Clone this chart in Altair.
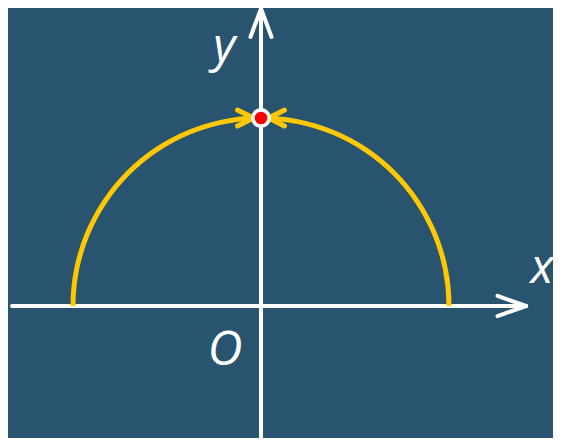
import altair as alt
import pandas as pd

# ---- values (math units: origin at the axes' crossing, 1 unit = semicircle radius)
X_DOMAIN = [-1.34574, 1.55319]
Y_DOMAIN = [-0.70213, 1.58511]

# white axis segments: shafts and open arrow heads
axis_x1 = [-1.324, 1.410, 1.410, 0.0, 0.0, 0.0]
axis_y1 = [0.0, 0.0, 0.0, -0.70213, 1.582, 1.582]
axis_x2 = [1.410, 1.258, 1.258, 0.0, -0.056, 0.056]
axis_y2 = [0.0, 0.054, -0.054, 1.582, 1.431, 1.431]

# semicircle (upper half of the unit circle)
arc_cx = [0.0]
arc_cy = [0.0]
arc_r_out = [1.0133]
arc_r_in = [0.9867]

# moving point at the top of the semicircle
point_x = [0.0]
point_y = [1.0]

# yellow chevrons converging on the point
chev_x1 = [-0.125, -0.125, 0.125, 0.125]
chev_y1 = [1.042, 0.958, 1.042, 0.958]
chev_x2 = [-0.040, -0.040, 0.040, 0.040]
chev_y2 = [1.0, 1.0, 1.0, 1.0]

# axis labels
label_text = ["y", "x", "O"]
label_x = [-0.195, 1.495, -0.191]
label_y = [1.298, 0.122, -0.314]

BG = "#285470"
YELLOW = "#FFC800"

xs = alt.Scale(domain=X_DOMAIN, nice=False, zero=False)
ys = alt.Scale(domain=Y_DOMAIN, nice=False, zero=False)

axes_df = pd.DataFrame({"x": axis_x1, "y": axis_y1, "x2": axis_x2, "y2": axis_y2})
chev_df = pd.DataFrame({"x": chev_x1, "y": chev_y1, "x2": chev_x2, "y2": chev_y2})
arc_df = pd.DataFrame({"x": arc_cx, "y": arc_cy, "r": arc_r_out, "r2": arc_r_in})
pt_df = pd.DataFrame({"x": point_x, "y": point_y})
lab_df = pd.DataFrame({"t": label_text, "x": label_x, "y": label_y})

def seg_enc():
    return dict(
        x=alt.X("x:Q", scale=xs, axis=None),
        y=alt.Y("y:Q", scale=ys, axis=None),
        x2="x2:Q",
        y2="y2:Q",
    )

axes = alt.Chart(axes_df).mark_rule(color="white", strokeWidth=4, strokeCap="round").encode(**seg_enc())

semi = alt.Chart(arc_df).mark_arc(theta=4.712389, theta2=7.853982, color=YELLOW).encode(
    x=alt.X("x:Q", scale=xs, axis=None),
    y=alt.Y("y:Q", scale=ys, axis=None),
    radius=alt.Radius("r:Q", scale=alt.Scale(type="linear", domain=[0, 1], range=[0, 188], zero=True)),
    radius2="r2:Q",
)

chev = alt.Chart(chev_df).mark_rule(color=YELLOW, strokeWidth=5, strokeCap="round").encode(**seg_enc())

dot_white = alt.Chart(pt_df).mark_circle(color="white", size=400, opacity=1).encode(
    x=alt.X("x:Q", scale=xs, axis=None), y=alt.Y("y:Q", scale=ys, axis=None)
)
dot_red = alt.Chart(pt_df).mark_circle(color="#FF0000", size=160, opacity=1).encode(
    x=alt.X("x:Q", scale=xs, axis=None), y=alt.Y("y:Q", scale=ys, axis=None)
)

labels = alt.Chart(lab_df).mark_text(
    font="Open Sans", fontStyle="italic", fontSize=48, color="white",
    align="center", baseline="alphabetic",
).encode(
    x=alt.X("x:Q", scale=xs, axis=None),
    y=alt.Y("y:Q", scale=ys, axis=None),
    text="t:N",
)

chart = alt.layer(axes, semi, chev, dot_white, dot_red, labels).properties(
    width=545, height=430, padding=0,
    autosize=alt.AutoSizeParams(type="none"),
    background=BG,
).configure_view(stroke=None, fill=BG)

chart.save("out.html", embed_options={"renderer": "svg", "actions": False})
